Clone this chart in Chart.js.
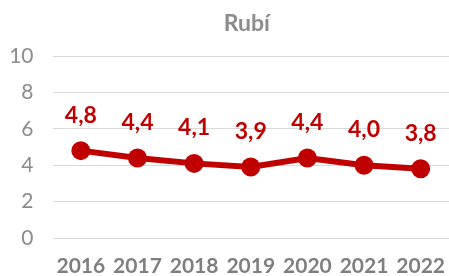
<!DOCTYPE html>
<html><head><meta charset="utf-8">
<script src="https://cdn.jsdelivr.net/npm/chart.js@4/dist/chart.umd.min.js"></script>
<style>html,body{margin:0;padding:0;background:#fff}#wrap{width:449px;height:276px}</style>
</head><body><div id="wrap"><canvas id="c" width="449" height="276"></canvas></div>
<script>
const categories = ["2016","2017","2018","2019","2020","2021","2022"];
const values = [4.8, 4.4, 4.1, 3.9, 4.4, 4.0, 3.8];
const yTicks = [0, 2, 4, 6, 8, 10];
const titleText = "Rubí";

const labelPlugin = {
  id: 'valueLabels',
  afterDatasetsDraw(chart) {
    const ctx = chart.ctx;
    const meta = chart.getDatasetMeta(0);
    const area = chart.chartArea;
    ctx.save();
    ctx.textAlign = 'center';
    ctx.textBaseline = 'alphabetic';
    ctx.font = 'bold 23px Lato';
    ctx.fillStyle = '#8c8c8c';
    ctx.fillText(titleText, (area.left + area.right) / 2 - 4, 30.5);
    ctx.fillStyle = '#C00000';
    meta.data.forEach((pt, i) => {
      ctx.fillText(values[i].toFixed(1).replace('.', ','), pt.x, pt.y - 28);
    });
    ctx.restore();
  }
};

new Chart(document.getElementById('c'), {
  type: 'line',
  data: {
    labels: categories,
    datasets: [{
      data: values,
      borderColor: '#C00000',
      backgroundColor: '#C00000',
      borderWidth: 6,
      pointRadius: 9.5,
      pointHoverRadius: 9.5,
      pointBorderWidth: 0,
      tension: 0,
      clip: false
    }]
  },
  options: {
    responsive: false,
    animation: false,
    layout: { autoPadding: false, padding: { left: 9, right: 0, top: 56, bottom: 0 } },
    plugins: {
      legend: { display: false },
      tooltip: { enabled: false },
      title: { display: false }
    },
    scales: {
      x: {
        offset: true,
        grid: { display: false, drawTicks: false, tickLength: 0 },
        border: { display: false },
        ticks: { color: '#7f7f7f', font: { family: 'Lato', size: 21, weight: 'bold' }, padding: 16, maxRotation: 0, autoSkip: false },
        afterFit(axis) { axis.paddingLeft = 0; axis.paddingRight = 0; axis.height = 38; }
      },
      y: {
        min: 0, max: 10,
        afterBuildTicks(axis) { axis.ticks = yTicks.map(v => ({ value: v })); },
        grid: { color: '#d9d9d9', lineWidth: 1, drawTicks: false },
        border: { display: false },
        ticks: { color: '#8c8c8c', font: { family: 'Lato', size: 21 }, padding: 19 },
        afterFit(axis) { axis.width = 43.5; }
      }
    }
  },
  plugins: [labelPlugin]
});
</script></body></html>
